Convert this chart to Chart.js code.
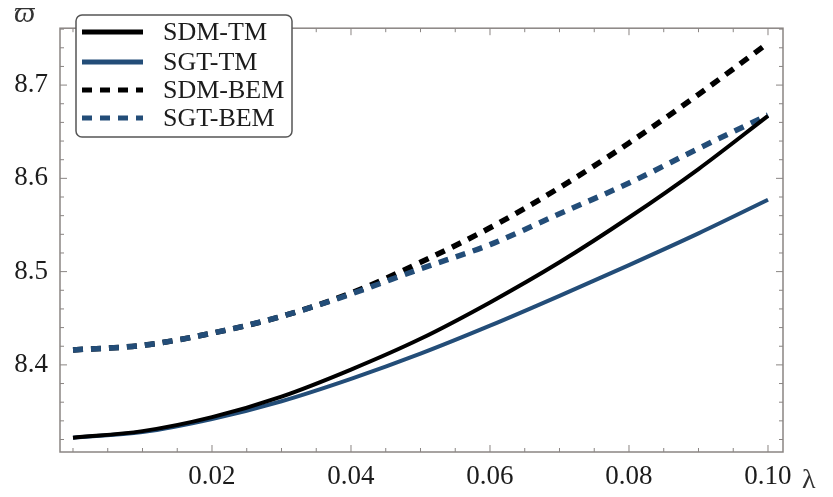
<!DOCTYPE html>
<html>
<head>
<meta charset="utf-8">
<script src="https://cdn.jsdelivr.net/npm/chart.js@4.4.0/dist/chart.umd.min.js"></script>
<style>
body{margin:0;background:#fff;}
#wrap{width:833px;height:497px;}
</style>
</head>
<body>
<div id="wrap"><canvas id="canvasG1" width="833" height="497"></canvas></div>
<script>
//데이터 (lambda 별 값)
var lambdaVals = [0, 0.01, 0.02, 0.03, 0.04, 0.05, 0.06, 0.07, 0.08, 0.09, 0.10];
var sdmTM  = [8.322, 8.329, 8.344, 8.366, 8.395, 8.428, 8.467, 8.510, 8.558, 8.610, 8.667];
var sgtTM  = [8.322, 8.328, 8.342, 8.361, 8.385, 8.412, 8.442, 8.474, 8.507, 8.541, 8.577];
var sdmBEM = [8.416, 8.421, 8.434, 8.452, 8.477, 8.510, 8.547, 8.590, 8.638, 8.690, 8.745];
var sgtBEM = [8.416, 8.421, 8.434, 8.452, 8.476, 8.503, 8.529, 8.562, 8.595, 8.632, 8.668];
var seriesNames = ["SDM-TM", "SGT-TM", "SDM-BEM", "SGT-BEM"];
var xTickLabels = ["0.02", "0.04", "0.06", "0.08", "0.10"];
var yTickLabels = ["8.4", "8.5", "8.6", "8.7"];

var BLUE = "#234d78";
var SERIF = "Liberation Serif";
var TXT = "#1c1c1c";

function toPoints(arr){
	var pts = [];
	for(var i=0;i<lambdaVals.length;i++){
		pts.push({x: lambdaVals[i], y: arr[i]});
	}
	return pts;
}

function makeSet(label, arr, color, dashed, ord){
	return {
		label: label,
		data: toPoints(arr),
		borderColor: color,
		backgroundColor: color,
		borderWidth: dashed ? 5.5 : 4,
		borderDash: dashed ? [10, 8] : [],
		borderCapStyle: "butt",
		pointRadius: 0,
		fill: false,
		cubicInterpolationMode: "monotone",
		order: ord
	};
}

//프레임, 눈금, 범례, 축 기호 그리기
var framePlugin = {
	id: "frame",
	afterDraw: function(chart){
		var ctx = chart.ctx;
		var a = chart.chartArea;
		var xs = chart.scales.x, ys = chart.scales.y;
		ctx.save();
		ctx.strokeStyle = "#8a8583";
		ctx.lineWidth = 1.5;
		ctx.strokeRect(a.left, a.top, a.right - a.left, a.bottom - a.top);

		//x 눈금 (안쪽)
		ctx.lineWidth = 1;
		for(var k=0;k<=20;k++){
			var v = k*0.005;
			var px = xs.getPixelForValue(v);
			var len = (k % 4 == 0 && k > 0) ? 7 : 4;
			ctx.beginPath();
			ctx.moveTo(px, a.bottom); ctx.lineTo(px, a.bottom - len);
			ctx.moveTo(px, a.top); ctx.lineTo(px, a.top + len);
			ctx.stroke();
		}
		//y 눈금
		for(var j=0;j<=22;j++){
			var yv = 8.32 + j*0.02;
			if(yv > ys.max) break;
			var py = ys.getPixelForValue(yv);
			var ylen = (Math.abs((yv*10) - Math.round(yv*10)) < 0.001) ? 7 : 4;
			ctx.beginPath();
			ctx.moveTo(a.left, py); ctx.lineTo(a.left + ylen, py);
			ctx.moveTo(a.right, py); ctx.lineTo(a.right - ylen, py);
			ctx.stroke();
		}

		//축 기호
		ctx.fillStyle = "#333";
		ctx.font = "italic 30px " + SERIF + ", DejaVu Serif";
		ctx.textAlign = "left";
		ctx.textBaseline = "alphabetic";
		ctx.fillText("\u03d6", 14, 22);
		ctx.font = "28px " + SERIF + ", DejaVu Serif";
		ctx.fillText("\u03bb", 802, 488);

		//범례
		var bx = 76, by = 15, bw = 216, bh = 122;
		ctx.beginPath();
		ctx.roundRect(bx, by, bw, bh, 6);
		ctx.fillStyle = "#fff";
		ctx.fill();
		ctx.strokeStyle = "#555";
		ctx.lineWidth = 1.5;
		ctx.stroke();
		var rows = [32, 62, 90, 118];
		var sets = chart.data.datasets;
		ctx.font = "26px " + SERIF;
		ctx.textBaseline = "middle";
		for(var r=0;r<sets.length;r++){
			var ds = sets[r];
			ctx.beginPath();
			ctx.setLineDash(ds.borderDash);
			ctx.strokeStyle = ds.borderColor;
			ctx.lineWidth = 5;
			ctx.moveTo(82, rows[r]); ctx.lineTo(143, rows[r]);
			ctx.stroke();
			ctx.setLineDash([]);
			ctx.fillStyle = TXT;
			ctx.fillText(ds.label, 163, rows[r] + 1);
		}
		ctx.restore();
	}
};

function G1_INIT(){
	var ctx = $id("canvasG1").getContext("2d");
	window.myLineG1 = new Chart(ctx, {
		type: "line",
		data: {
			datasets: [
				makeSet(seriesNames[0], sdmTM, "#000", false, 1),
				makeSet(seriesNames[1], sgtTM, BLUE, false, 2),
				makeSet(seriesNames[2], sdmBEM, "#000", true, 4),
				makeSet(seriesNames[3], sgtBEM, BLUE, true, 3)
			]
		},
		options: {
			responsive: false,
			animation: false,
			layout: { padding: { top: 5, right: 50, left: 0, bottom: 0 } },
			plugins: { legend: { display: false }, tooltip: { enabled: false } },
			scales: {
				x: {
					type: "linear",
					min: -0.00187, max: 0.10216,
					grid: { display: false, drawTicks: false },
					border: { display: false },
					ticks: {
						stepSize: 0.02, includeBounds: false, padding: 9,
						color: TXT, maxRotation: 0,
						font: { family: SERIF, size: 27 },
						callback: function(v){
							var idx = Math.round(v/0.02) - 1;
							return idx >= 0 ? xTickLabels[idx] : "";
						}
					},
					afterFit: function(s){ s.height = 45; }
				},
				y: {
					type: "linear",
					min: 8.3066, max: 8.761,
					grid: { display: false, drawTicks: false },
					border: { display: false },
					ticks: {
						stepSize: 0.1, includeBounds: false, padding: 12,
						color: TXT,
						font: { family: SERIF, size: 27 },
						callback: function(v){
							var idx = Math.round((v - 8.4)/0.1);
							return (idx >= 0 && idx < yTickLabels.length) ? yTickLabels[idx] : "";
						}
					},
					afterFit: function(s){ s.width = 60; }
				}
			}
		},
		plugins: [framePlugin]
	});
}

function $id(id){ return document.getElementById(id); }

G1_INIT();
</script>
</body>
</html>
